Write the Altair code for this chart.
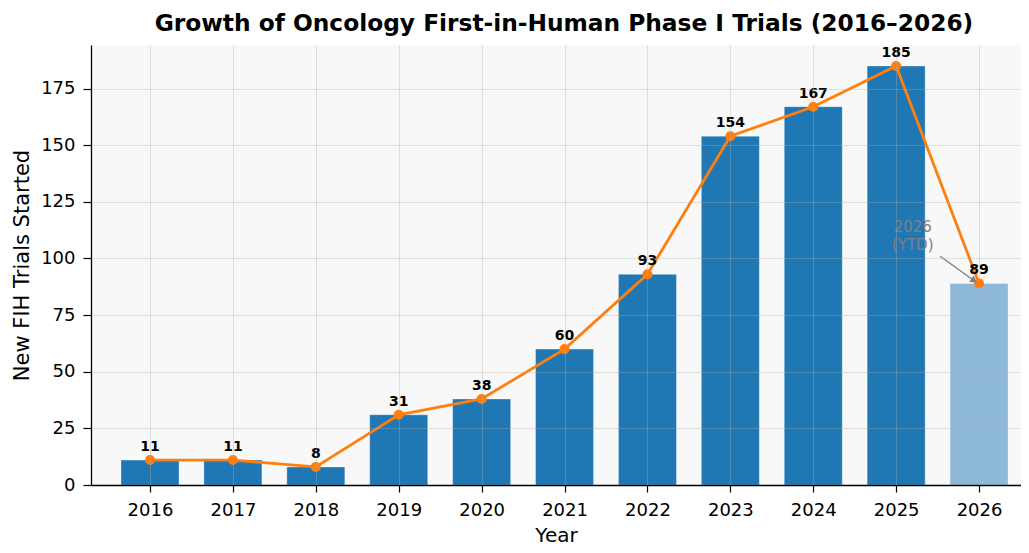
import altair as alt
import pandas as pd

years = list(range(2016, 2027))
trials = [11, 11, 8, 31, 38, 60, 93, 154, 167, 185, 89]
status = ["Full year"] * 10 + ["YTD"]

# annotation (data coordinates)
ann_x = [2025.2]
ann_y = [114]
ann_text = ["2026\n(YTD)"]
arrow_x = [2025.53]
arrow_y = [101]
arrow_x2 = [2025.93]
arrow_y2 = [90.5]

df = pd.DataFrame({"year": years, "trials": trials, "status": status})
ann = pd.DataFrame({"x": ann_x, "y": ann_y, "text": ann_text})
arr = pd.DataFrame({"x": arrow_x, "y": arrow_y, "x2": arrow_x2, "y2": arrow_y2})

xscale = alt.Scale(domain=[2015.288, 2026.506], nice=False, zero=False)
yscale = alt.Scale(domain=[0, 194.25], nice=False)

xaxis = alt.Axis(values=years, format="d", title="Year", grid=True, zindex=1,
                 gridColor="#b0b0b0", gridOpacity=0.35, gridWidth=1,
                 domainColor="black", domainWidth=1.3, tickColor="black",
                 tickSize=7, tickWidth=1.2, labelFontSize=18, titleFontSize=20,
                 labelPadding=9, titlePadding=6, titleFontWeight="normal")
yaxis = alt.Axis(values=list(range(0, 176, 25)), title="New FIH Trials Started",
                 grid=True, zindex=1, gridColor="#b0b0b0", gridOpacity=0.35,
                 gridWidth=1, domainColor="black", domainWidth=1.3,
                 tickColor="black", tickSize=8, tickWidth=1.2, labelFontSize=18,
                 titleFontSize=21, labelPadding=8, titlePadding=8,
                 titleFontWeight="normal")

base = alt.Chart(df)

bars = base.transform_calculate(
    x0="datum.year - 0.35", x1="datum.year + 0.35"
).mark_bar(stroke="white", strokeWidth=0.6, strokeOpacity=0.6).encode(
    x=alt.X("x0:Q", scale=xscale, axis=xaxis),
    x2="x1:Q",
    y=alt.Y("trials:Q", scale=yscale, axis=yaxis),
    y2=alt.datum(0),
    color=alt.Color("status:N", legend=None,
                    scale=alt.Scale(domain=["Full year", "YTD"],
                                    range=["#1f77b4", "#8db8d7"])),
)

line = base.mark_line(color="#ff7f0e", strokeWidth=2.8).encode(
    x=alt.X("year:Q", scale=xscale), y=alt.Y("trials:Q", scale=yscale)
)
points = base.mark_circle(color="#ff7f0e", size=100, opacity=1).encode(
    x=alt.X("year:Q", scale=xscale), y=alt.Y("trials:Q", scale=yscale)
)
labels = base.mark_text(fontSize=14, fontWeight="bold", color="black",
                        baseline="bottom", dy=-6).encode(
    x=alt.X("year:Q", scale=xscale), y=alt.Y("trials:Q", scale=yscale),
    text="trials:Q"
)

ann_text_layer = alt.Chart(ann).mark_text(
    fontSize=15, color="#808080", align="center", baseline="middle",
    lineBreak="\n", lineHeight=18
).encode(x=alt.X("x:Q", scale=xscale), y=alt.Y("y:Q", scale=yscale), text="text:N")

arrow_line = alt.Chart(arr).mark_rule(color="#808080", strokeWidth=1.4).encode(
    x=alt.X("x:Q", scale=xscale), y=alt.Y("y:Q", scale=yscale),
    x2="x2:Q", y2="y2:Q"
)
arrow_head = alt.Chart(arr).mark_point(
    shape="triangle", filled=True, color="#808080", size=60, angle=124, opacity=1
).encode(x=alt.X("x2:Q", scale=xscale), y=alt.Y("y2:Q", scale=yscale))

chart = alt.layer(
    bars, line, points, labels, ann_text_layer, arrow_line, arrow_head
).properties(
    width=930, height=440,
    title=alt.TitleParams(
        "Growth of Oncology First-in-Human Phase I Trials (2016–2026)",
        fontSize=23.3, fontWeight="bold", anchor="middle", color="black",
        offset=9, dx=8
    ),
    autosize=alt.AutoSizeParams(type="none"),
    padding={"left": 83, "top": 37, "right": 0, "bottom": 60},
).configure(
    font="DejaVu Sans"
).configure_view(
    fill="#f8f8f8", stroke=None
).configure_axis(
    labelColor="black", titleColor="black"
)

chart.save("out.html", embed_options={"renderer": "svg", "actions": False})
